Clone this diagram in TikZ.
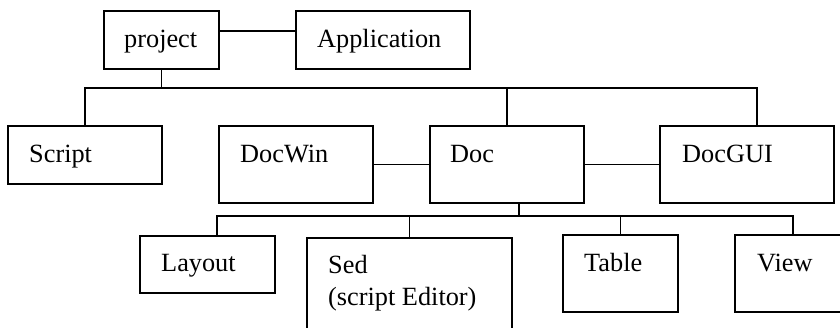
\documentclass[tikz,border=0pt]{standalone}
\usepackage{fontspec}
\setmainfont{Liberation Serif}
\newfontfamily\tnrfont{Liberation Serif}
\usetikzlibrary{calc}
\begin{document}
\begin{tikzpicture}[x=1pt,y=-1pt,
  box/.style={draw=black,line width=1.8pt,inner sep=0pt,outer sep=0pt,anchor=north west},
  lbl/.style={anchor=base west,inner sep=0pt,font=\tnrfont\fontsize{26.3}{32}\selectfont},
  conn/.style={draw=black,line width=1.6pt}]
\useasboundingbox (0,0) rectangle (840,327);
\clip (0,0) rectangle (840,327);
% boxes
\node[box,minimum width=115,minimum height=58] (project) at (104,11) {};
\node[box,minimum width=174,minimum height=58] (app) at (296,11) {};
\node[box,minimum width=154,minimum height=58] (script) at (8,126) {};
\node[box,minimum width=154,minimum height=77] (docwin) at (219,126) {};
\node[box,minimum width=154,minimum height=77] (doc) at (430,126) {};
\node[box,minimum width=174,minimum height=77] (docgui) at (660,126) {};
\node[box,minimum width=135,minimum height=57] (layout) at (140,236) {};
\node[box,minimum width=205,minimum height=110] (sed) at (307,238) {};
\node[box,minimum width=115,minimum height=77] (table) at (563,235) {};
\node[box,minimum width=116,minimum height=77] (view) at (735,235) {};
% labels
\node[lbl] (tproject) at (124,47) {project};
\node[lbl] (tapp) at (317,47) {Application};
\node[lbl] (tscript) at (29,162) {Script};
\node[lbl] (tdocwin) at (240,162) {DocWin};
\node[lbl] (tdoc) at (450,162) {Doc};
\node[lbl] (tdocgui) at (682,162) {DocGUI};
\node[lbl] (tlayout) at (161,271) {Layout};
\node[lbl] (tsed) at (328,273) {Sed};
\node[lbl] (tsed2) at (328,305) {(script Editor)};
\node[lbl] (ttable) at (584,271) {Table};
\node[lbl] (tview) at (757,271) {View};
% connectors
\coordinate (pa) at ($(project.north east)+(0,20)$);
\draw[conn] (pa) -- (pa -| app.west);
\coordinate (bus1) at (0,88);
\draw[conn] (project.south) -- (project.south |- bus1);
\coordinate (gtop) at ($(docgui.north)+(10,0)$);
\draw[conn] (script.north) |- (gtop |- bus1) -- (gtop);
\draw[conn] (doc.north |- bus1) -- (doc.north);
\draw[conn] (docwin.east) -- (doc.west);
\draw[conn] (doc.east) -- (docgui.west);
\coordinate (dbot) at ($(doc.south)+(12,0)$);
\coordinate (bus2) at (0,216);
\coordinate (ltop) at ($(layout.north)+(9.5,0)$);
\draw[conn] (dbot) -- (dbot |- bus2);
\draw[conn] (ltop) |- (view.north |- bus2) -- (view.north);
\draw[conn] (sed.north |- bus2) -- (sed.north);
\draw[conn] (table.north |- bus2) -- (table.north);
\end{tikzpicture}
\end{document}
